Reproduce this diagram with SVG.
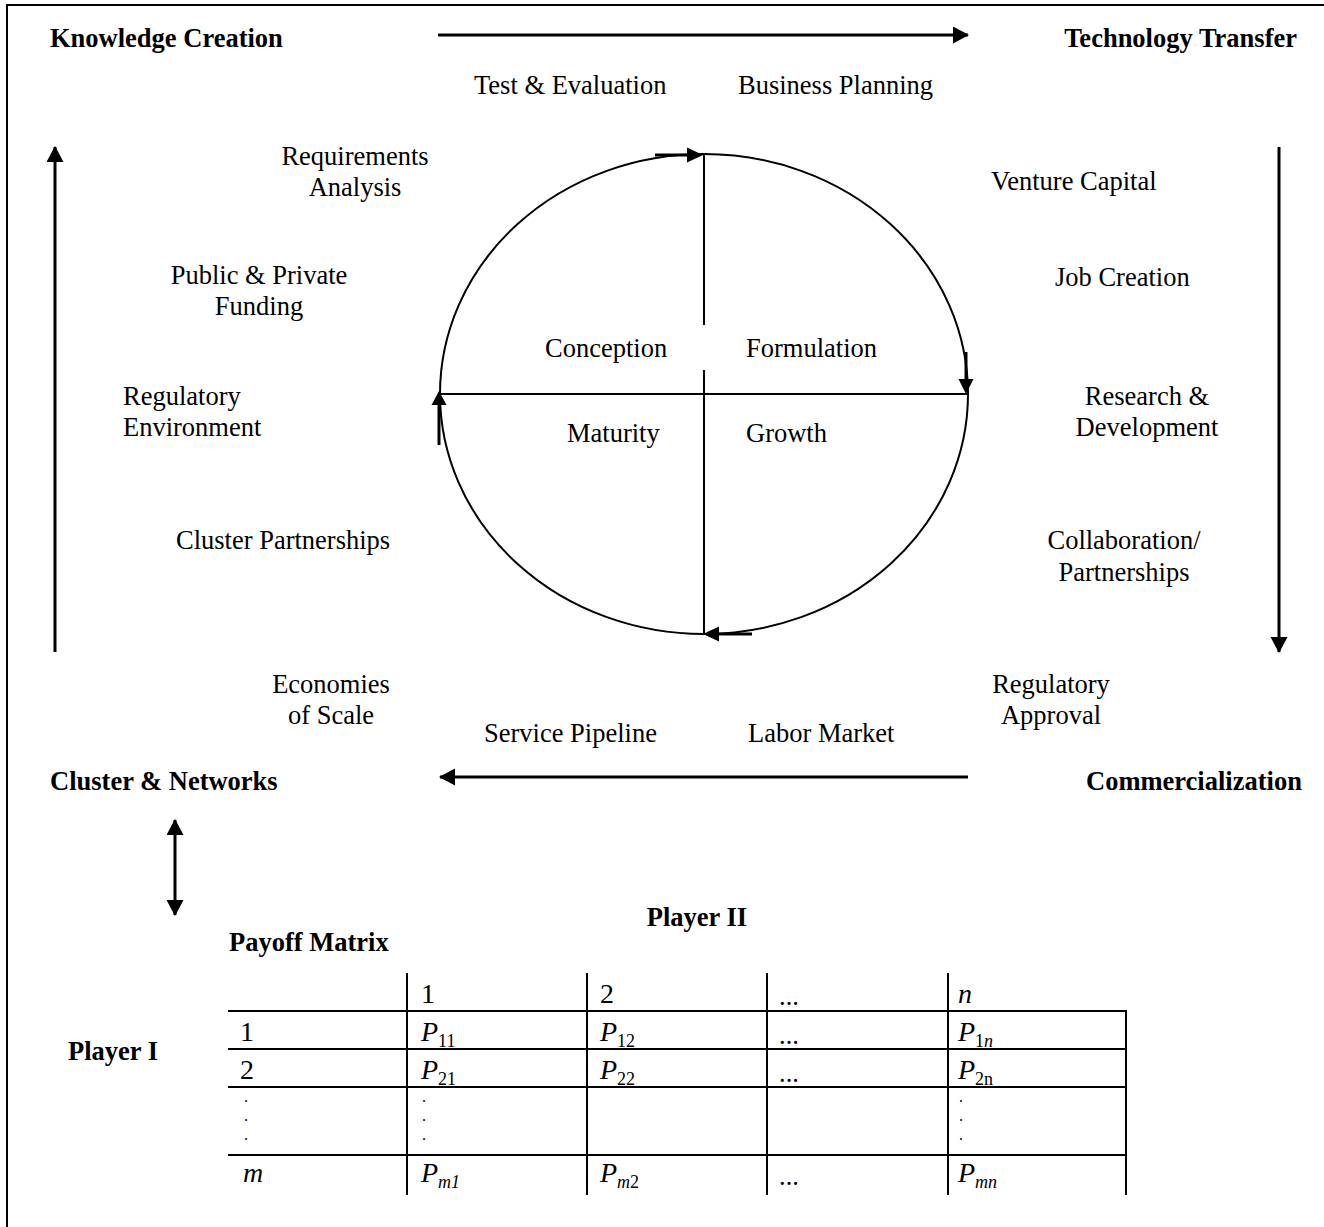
<svg xmlns="http://www.w3.org/2000/svg" width="1324" height="1227" viewBox="0 0 1324 1227">
<style>
text{font-family:"Liberation Serif","Times New Roman",serif;font-size:26.5px;fill:#000}
.b{font-weight:bold}
.m{text-anchor:middle}
.e{text-anchor:end}
.t{font-size:28px}
.i{font-style:italic}
.s{font-size:18px}
.d{font-size:16px}
.ln{stroke:#000;stroke-width:2;fill:none}
.th{stroke:#000;stroke-width:3;fill:none}
</style>
<defs>
<marker id="ah" markerUnits="userSpaceOnUse" markerWidth="16" markerHeight="18" refX="15" refY="8.5" orient="auto">
<path d="M0,0 L16,8.5 L0,17 Z" fill="#000"/>
</marker>
<marker id="ahs" markerUnits="userSpaceOnUse" markerWidth="16" markerHeight="18" refX="15" refY="8.5" orient="auto-start-reverse">
<path d="M0,0 L16,8.5 L0,17 Z" fill="#000"/>
</marker>
</defs>
<rect width="1324" height="1227" fill="#fff"/>
<g id="frame"><path class="ln" d="M7,1227 V5 H1324"/></g>

<g id="cycle">
<ellipse class="ln" cx="704" cy="394" rx="264" ry="240"/>
<line class="ln" x1="704" y1="154" x2="704" y2="325"/>
<line class="ln" x1="704" y1="370" x2="704" y2="634"/>
<line class="ln" x1="440" y1="394" x2="968" y2="394"/>
</g>

<g id="connectors">
<line class="th" x1="438" y1="35" x2="968" y2="35" marker-end="url(#ah)"/>
<line class="th" x1="968" y1="777" x2="440" y2="777" marker-end="url(#ah)"/>
<line class="th" x1="1279" y1="147" x2="1279" y2="652" marker-end="url(#ah)"/>
<line class="th" x1="55" y1="652" x2="55" y2="147" marker-end="url(#ah)"/>
<line class="th" x1="175" y1="820" x2="175" y2="915" marker-start="url(#ahs)" marker-end="url(#ah)"/>
<line class="th" x1="655" y1="155" x2="690" y2="155"/>
<polygon points="703,155 687,147.5 687,162.5" fill="#000"/>
<line class="th" x1="966" y1="352" x2="966" y2="382"/>
<polygon points="966,394 958.5,379 973.5,379" fill="#000"/>
<line class="th" x1="752" y1="634" x2="717" y2="634"/>
<polygon points="703,634 719,626.5 719,641.5" fill="#000"/>
<line class="th" x1="439" y1="445" x2="439" y2="404"/>
<polygon points="439,391 431.5,405 446.5,405" fill="#000"/>
</g>

<g id="headings">
<text class="b" x="50" y="47">Knowledge Creation</text>
<text class="b e" x="1297" y="47">Technology Transfer</text>
<text class="b" x="50" y="790">Cluster &amp; Networks</text>
<text class="b" x="1086" y="790">Commercialization</text>
</g>

<g id="phases">
<text x="545" y="357">Conception</text>
<text x="746" y="357">Formulation</text>
<text x="567" y="442">Maturity</text>
<text x="746" y="442">Growth</text>
</g>

<g id="labels">
<text x="474" y="94">Test &amp; Evaluation</text>
<text x="738" y="94">Business Planning</text>
<text class="m" x="355" y="165">Requirements</text>
<text class="m" x="355" y="196">Analysis</text>
<text class="m" x="259" y="284">Public &amp; Private</text>
<text class="m" x="259" y="315">Funding</text>
<text x="123" y="405">Regulatory</text>
<text x="123" y="436">Environment</text>
<text x="176" y="549">Cluster Partnerships</text>
<text class="m" x="331" y="693">Economies</text>
<text class="m" x="331" y="724">of Scale</text>
<text x="484" y="742">Service Pipeline</text>
<text x="748" y="742">Labor Market</text>
<text x="991" y="190">Venture Capital</text>
<text x="1055" y="286">Job Creation</text>
<text class="m" x="1147" y="405">Research &amp;</text>
<text class="m" x="1147" y="436">Development</text>
<text class="m" x="1124" y="549">Collaboration/</text>
<text class="m" x="1124" y="581">Partnerships</text>
<text class="m" x="1051" y="693">Regulatory</text>
<text class="m" x="1051" y="724">Approval</text>
</g>

<g id="payoff-matrix">
<text class="b m" x="697" y="926">Player II</text>
<text class="b" x="229" y="951">Payoff Matrix</text>
<text class="b" x="68" y="1060">Player I</text>
<g class="grid">
<line class="ln" x1="407" y1="973" x2="407" y2="1195"/>
<line class="ln" x1="587" y1="973" x2="587" y2="1195"/>
<line class="ln" x1="767" y1="973" x2="767" y2="1195"/>
<line class="ln" x1="948" y1="973" x2="948" y2="1195"/>
<line class="ln" x1="1126" y1="1011" x2="1126" y2="1195"/>
<line class="ln" x1="228" y1="1011" x2="1127" y2="1011"/>
<line class="ln" x1="228" y1="1049" x2="1127" y2="1049"/>
<line class="ln" x1="228" y1="1087" x2="1127" y2="1087"/>
<line class="ln" x1="228" y1="1155" x2="1127" y2="1155"/>
</g>
<text class="t" x="421" y="1003">1</text>
<text class="t" x="600" y="1003">2</text>
<text x="779" y="1005">...</text>
<text class="t i" x="958" y="1003">n</text>

<text class="t" x="240" y="1041">1</text>
<text class="t" x="421" y="1041"><tspan class="i">P</tspan><tspan class="s" dy="6">11</tspan></text>
<text class="t" x="600" y="1041"><tspan class="i">P</tspan><tspan class="s" dy="6">12</tspan></text>
<text x="779" y="1044">...</text>
<text class="t" x="958" y="1041"><tspan class="i">P</tspan><tspan class="s" dy="6">1</tspan><tspan class="s i">n</tspan></text>

<text class="t" x="240" y="1079">2</text>
<text class="t" x="421" y="1079"><tspan class="i">P</tspan><tspan class="s" dy="6">21</tspan></text>
<text class="t" x="600" y="1079"><tspan class="i">P</tspan><tspan class="s" dy="6">22</tspan></text>
<text x="779" y="1082">...</text>
<text class="t" x="958" y="1079"><tspan class="i">P</tspan><tspan class="s" dy="6">2n</tspan></text>

<text class="d" x="244" y="1102">.</text><text class="d" x="244" y="1121">.</text><text class="d" x="244" y="1140">.</text>
<text class="d" x="422" y="1102">.</text><text class="d" x="422" y="1121">.</text><text class="d" x="422" y="1140">.</text>
<text class="d" x="959" y="1102">.</text><text class="d" x="959" y="1121">.</text><text class="d" x="959" y="1140">.</text>

<text class="t i" x="243" y="1182">m</text>
<text class="t" x="421" y="1182"><tspan class="i">P</tspan><tspan class="s i" dy="6">m1</tspan></text>
<text class="t" x="600" y="1182"><tspan class="i">P</tspan><tspan class="s i" dy="6">m</tspan><tspan class="s">2</tspan></text>
<text x="779" y="1185">...</text>
<text class="t" x="958" y="1182"><tspan class="i">P</tspan><tspan class="s i" dy="6">mn</tspan></text>
</g>
</svg>
